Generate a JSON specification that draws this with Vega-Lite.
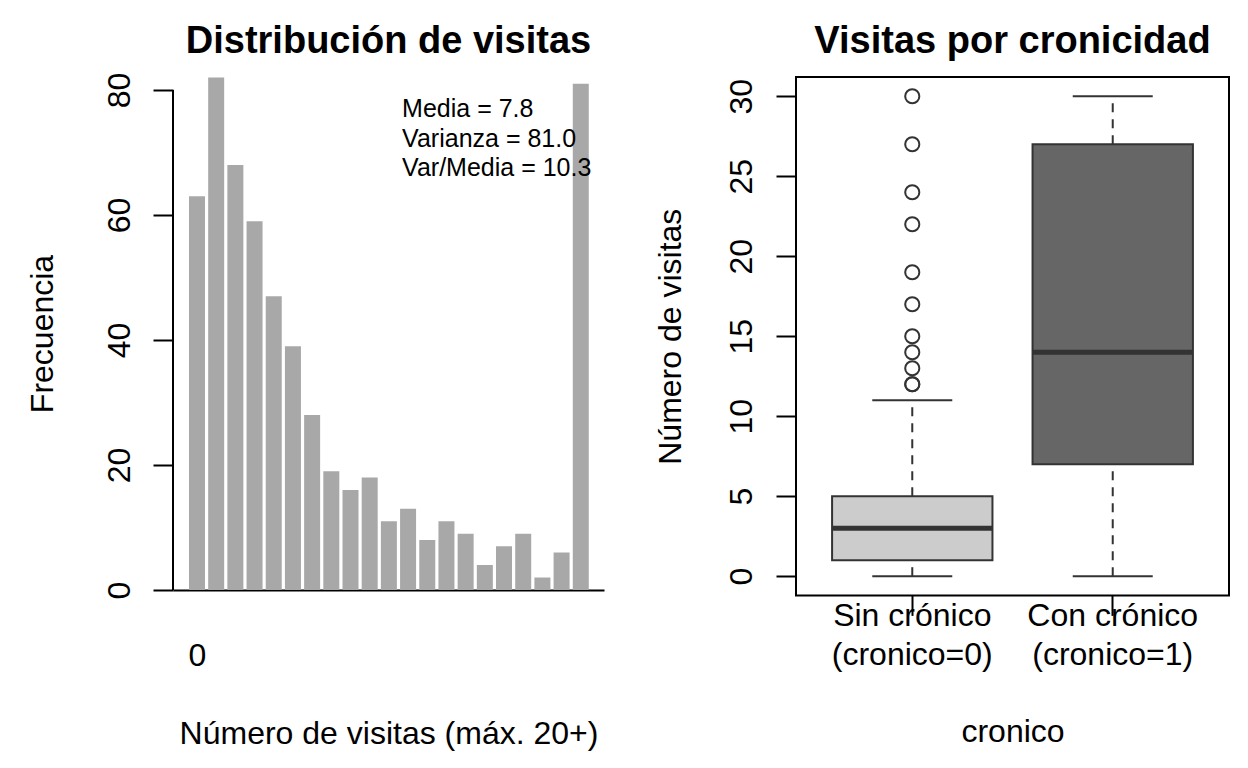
{
  "$schema": "https://vega.github.io/schema/vega-lite/v6.json",
  "background": "white",
  "padding": {"left": 26, "top": 22, "right": 5, "bottom": 5},
  "bounds": "flush",
  "spacing": 192,
  "config": {
    "font": "Liberation Sans",
    "view": {"stroke": null},
    "title": {"font": "Liberation Sans", "fontSize": 38, "fontWeight": "bold", "color": "black", "anchor": "middle", "frame": "group"},
    "axis": {
      "grid": false,
      "labelFont": "Liberation Sans", "titleFont": "Liberation Sans",
      "labelFontSize": 32, "titleFontSize": 32, "titleFontWeight": "normal",
      "labelColor": "black", "titleColor": "black",
      "tickColor": "black", "domainColor": "black",
      "tickWidth": 2, "domainWidth": 2, "tickSize": 20,
      "labelOverlap": false, "labelFlush": false
    }
  },
  "hconcat": [
    {
      "width": 431,
      "height": 513,
      "title": {"text": "Distribución de visitas", "offset": 11},
      "layer": [
        {
          "data": {"values": [
            {"visitas": 0, "frecuencia": 63}, {"visitas": 1, "frecuencia": 82}, {"visitas": 2, "frecuencia": 68},
            {"visitas": 3, "frecuencia": 59}, {"visitas": 4, "frecuencia": 47}, {"visitas": 5, "frecuencia": 39},
            {"visitas": 6, "frecuencia": 28}, {"visitas": 7, "frecuencia": 19}, {"visitas": 8, "frecuencia": 16},
            {"visitas": 9, "frecuencia": 18}, {"visitas": 10, "frecuencia": 11}, {"visitas": 11, "frecuencia": 13},
            {"visitas": 12, "frecuencia": 8}, {"visitas": 13, "frecuencia": 11}, {"visitas": 14, "frecuencia": 9},
            {"visitas": 15, "frecuencia": 4}, {"visitas": 16, "frecuencia": 7}, {"visitas": 17, "frecuencia": 9},
            {"visitas": 18, "frecuencia": 2}, {"visitas": 19, "frecuencia": 6}, {"visitas": 20, "frecuencia": 81}
          ]},
          "mark": {"type": "bar", "color": "#A8A8A8", "size": 16},
          "encoding": {
            "x": {
              "field": "visitas", "type": "quantitative", "title": "Número de visitas (máx. 20+)",
              "scale": {"domain": [-1.25, 21.21], "nice": false, "zero": false, "padding": 0},
              "axis": {"values": [0], "format": "d", "ticks": false, "labelPadding": 75, "labelBaseline": "alphabetic",
                       "titleX": 215.5, "titleY": 153, "titleBaseline": "alphabetic", "titleAlign": "center"}
            },
            "y": {
              "field": "frecuencia", "type": "quantitative", "title": "Frecuencia",
              "scale": {"domain": [0, 82.08], "nice": false},
              "axis": {"values": [0, 20, 40, 60, 80], "domain": false, "labelAngle": 270, "labelAlign": "center",
                       "labelBaseline": "alphabetic", "labelPadding": 24,
                       "titleX": -121, "titleY": 256.5, "titleAngle": 270, "titleAlign": "center", "titleBaseline": "alphabetic"}
            }
          }
        },
        {
          "data": {"values": [{}]},
          "mark": {"type": "rule", "color": "black", "strokeWidth": 2},
          "encoding": {"x": {"datum": -1.25}, "y": {"datum": 0}, "y2": {"datum": 80}}
        },
        {
          "data": {"values": [
            {"x": 10.69, "y": 75.7, "texto": "Media = 7.8"},
            {"x": 10.69, "y": 70.9, "texto": "Varianza = 81.0"},
            {"x": 10.69, "y": 66.2, "texto": "Var/Media = 10.3"}
          ]},
          "mark": {"type": "text", "align": "left", "baseline": "alphabetic", "fontSize": 25, "color": "black"},
          "encoding": {
            "x": {"field": "x", "type": "quantitative", "title": "Número de visitas (máx. 20+)"},
            "y": {"field": "y", "type": "quantitative", "title": "Frecuencia"},
            "text": {"field": "texto"}
          }
        }
      ]
    },
    {
      "width": 433,
      "height": 518.4,
      "view": {"stroke": "black", "strokeWidth": 2},
      "title": {"text": "Visitas por cronicidad", "offset": 16},
      "encoding": {
        "x": {
          "field": "grupo", "type": "nominal", "title": "cronico",
          "scale": {"domain": ["0", "1"], "paddingInner": 0.2, "paddingOuter": 0.18},
          "axis": {"domain": false, "labelAngle": 0, "labelBaseline": "alphabetic", "labelPadding": 10, "labelLineHeight": 39,
                   "labelExpr": "datum.value == '0' ? ['Sin crónico', '(cronico=0)'] : ['Con crónico', '(cronico=1)']",
                   "titleX": 216.5, "titleY": 146, "titleBaseline": "alphabetic", "titleAlign": "center"}
        }
      },
      "layer": [
        {
          "data": {"name": "cajas"},
          "mark": {"type": "rule", "color": "#333333", "strokeWidth": 2, "strokeDash": [9, 7]},
          "encoding": {
            "y": {"field": "q3", "type": "quantitative", "title": "Número de visitas",
                  "scale": {"domain": [-1.2, 31.2], "nice": false, "zero": false},
                  "axis": {"values": [0, 5, 10, 15, 20, 25, 30], "domain": false, "labelAngle": 270, "labelAlign": "center",
                           "labelBaseline": "alphabetic", "labelPadding": 25,
                           "titleX": -116, "titleY": 259.2, "titleAngle": 270, "titleAlign": "center", "titleBaseline": "alphabetic"}},
            "y2": {"field": "upper"}
          }
        },
        {
          "data": {"name": "cajas"},
          "mark": {"type": "rule", "color": "#333333", "strokeWidth": 2, "strokeDash": [9, 7]},
          "encoding": {
            "y": {"field": "lower", "type": "quantitative", "title": "Número de visitas"},
            "y2": {"field": "q1"}
          }
        },
        {
          "data": {"name": "cajas"},
          "mark": {"type": "bar", "stroke": "#333333", "strokeWidth": 2},
          "encoding": {
            "y": {"field": "q1", "type": "quantitative", "title": "Número de visitas"},
            "y2": {"field": "q3"},
            "color": {"field": "grupo", "type": "nominal", "scale": {"domain": ["0", "1"], "range": ["#CCCCCC", "#666666"]}, "legend": null}
          }
        },
        {
          "data": {"name": "cajas"},
          "mark": {"type": "tick", "color": "#333333", "size": 160, "thickness": 5, "opacity": 1},
          "encoding": {"y": {"field": "median", "type": "quantitative", "title": "Número de visitas"}}
        },
        {
          "data": {"name": "cajas"},
          "mark": {"type": "tick", "color": "#333333", "size": 80, "thickness": 2, "opacity": 1},
          "encoding": {"y": {"field": "lower", "type": "quantitative", "title": "Número de visitas"}}
        },
        {
          "data": {"name": "cajas"},
          "mark": {"type": "tick", "color": "#333333", "size": 80, "thickness": 2, "opacity": 1},
          "encoding": {"y": {"field": "upper", "type": "quantitative", "title": "Número de visitas"}}
        },
        {
          "data": {"values": [
            {"grupo": "0", "visitas": 12}, {"grupo": "0", "visitas": 12}, {"grupo": "0", "visitas": 13},
            {"grupo": "0", "visitas": 14}, {"grupo": "0", "visitas": 15}, {"grupo": "0", "visitas": 17},
            {"grupo": "0", "visitas": 19}, {"grupo": "0", "visitas": 22}, {"grupo": "0", "visitas": 24},
            {"grupo": "0", "visitas": 27}, {"grupo": "0", "visitas": 30}
          ]},
          "mark": {"type": "point", "shape": "circle", "filled": false, "size": 200, "stroke": "#333333", "strokeWidth": 2, "opacity": 1},
          "encoding": {"y": {"field": "visitas", "type": "quantitative", "title": "Número de visitas"}}
        }
      ]
    }
  ],
  "datasets": {
    "cajas": [
      {"grupo": "0", "lower": 0, "q1": 1, "median": 3, "q3": 5, "upper": 11},
      {"grupo": "1", "lower": 0, "q1": 7, "median": 14, "q3": 27, "upper": 30}
    ]
  }
}
